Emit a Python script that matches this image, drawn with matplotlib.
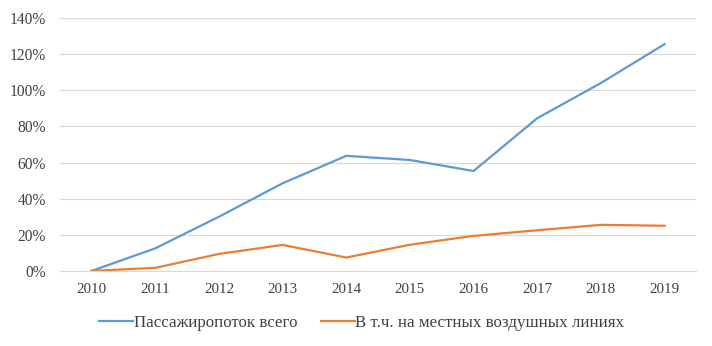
import numpy as np
import matplotlib.pyplot as plt
import matplotlib as mpl
from matplotlib.ticker import FuncFormatter

mpl.rcParams.update({'font.family': ['Liberation Serif', 'DejaVu Serif'], 'font.size': 10})

years = ['2010', '2011', '2012', '2013', '2014', '2015', '2016', '2017', '2018', '2019']
total = [0, 12.5, 30, 48.5, 63.7, 61.4, 55.3, 84.5, 104, 125.5]
local = [0, 1.7, 9.4, 14.4, 7.4, 14.5, 19.4, 22.5, 25.5, 25]
labels = ['Пассажиропоток всего', 'В т.ч. на местных воздушных линиях']

fig = plt.figure(figsize=(7.12, 3.46), dpi=100)
ax = fig.add_axes([0.084, 0.217, 0.894, 0.731])

x = np.arange(len(years))
ax.plot(x, total, color='#5B9BD5', lw=1.6, label=labels[0])
ax.plot(x, local, color='#ED7D31', lw=1.6, label=labels[1])

ax.set_xlim(-0.5, len(years) - 0.5)
ax.set_ylim(0, 140)
ax.set_yticks(range(0, 141, 20))
ax.yaxis.set_major_formatter(FuncFormatter(lambda v, p: f'{v:.0f}%'))
ax.set_xticks(x)
ax.set_xticklabels(years)
ax.tick_params(length=0, colors='#404040')
ax.tick_params(axis='x', pad=9, labelsize=10.8)
ax.tick_params(axis='y', pad=10, labelsize=11.2)
ax.grid(axis='y', color='#D9D9D9', lw=0.8)
ax.set_axisbelow(True)
for s in ['top', 'right', 'left']:
    ax.spines[s].set_visible(False)
ax.spines['bottom'].set_color('#D9D9D9')

fig.legend(loc='center', bbox_to_anchor=(0.508, 0.067), ncol=2, frameon=False,
           handlelength=2.0, handletextpad=0.05, columnspacing=1.4, fontsize=12.2,
           labelcolor='#404040')

fig.savefig('out.png', dpi=100)
